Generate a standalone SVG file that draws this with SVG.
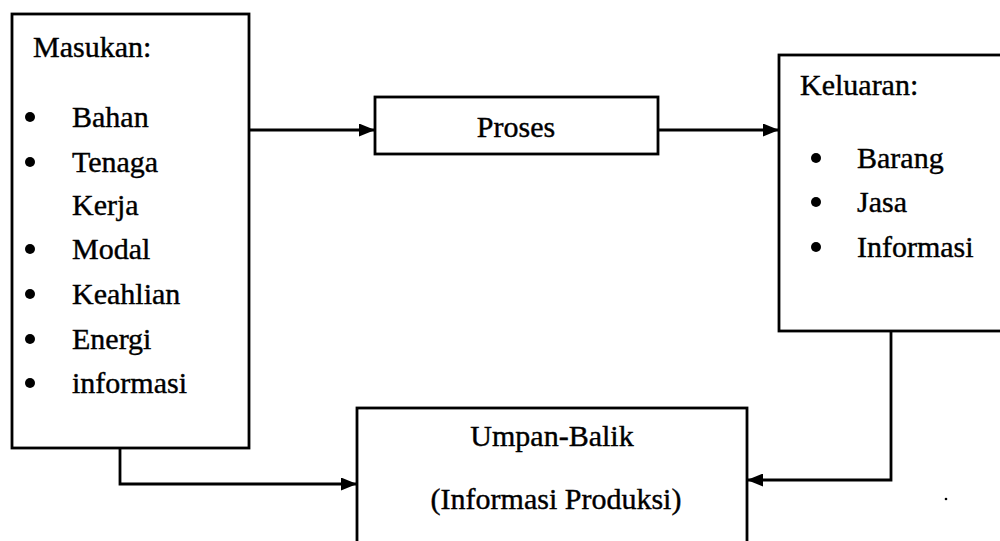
<svg xmlns="http://www.w3.org/2000/svg" width="1000" height="541" viewBox="0 0 1000 541">
  <style>
    .box { fill: #ffffff; stroke: #000000; stroke-width: 2.8; }
    .lbl { font-family: "Liberation Serif", "Times New Roman", serif; font-size: 30px; fill: #000000; stroke: #000000; stroke-width: 0.4; }
    .mid { text-anchor: middle; }
    .dot { fill: #000000; }
    .wire { fill: none; stroke: #000000; stroke-width: 2.8; }
  </style>
  <defs>
    <marker id="arrow" markerUnits="userSpaceOnUse" markerWidth="16" markerHeight="13" refX="15" refY="6.5" orient="auto">
      <path d="M0,0 L16,6.5 L0,13 z" fill="#000000"/>
    </marker>
  </defs>

  <rect width="1000" height="541" fill="#ffffff"/>

  <!-- inputs -->
  <g id="masukan">
    <rect class="box" x="12" y="14" width="237" height="434"/>
    <text class="lbl" x="33" y="57">Masukan:</text>
    <circle class="dot" cx="30" cy="117" r="5"/>
    <text class="lbl" x="72" y="127">Bahan</text>
    <circle class="dot" cx="30" cy="162" r="5"/>
    <text class="lbl" x="72" y="172">Tenaga</text>
    <text class="lbl" x="72" y="215">Kerja</text>
    <circle class="dot" cx="30" cy="249" r="5"/>
    <text class="lbl" x="72" y="259">Modal</text>
    <circle class="dot" cx="30" cy="294" r="5"/>
    <text class="lbl" x="72" y="304">Keahlian</text>
    <circle class="dot" cx="30" cy="339" r="5"/>
    <text class="lbl" x="72" y="349">Energi</text>
    <circle class="dot" cx="30" cy="383" r="5"/>
    <text class="lbl" x="72" y="393">informasi</text>
  </g>

  <!-- process -->
  <g id="proses">
    <rect class="box" x="375" y="97" width="283" height="57"/>
    <text class="lbl mid" x="516" y="137">Proses</text>
  </g>

  <!-- outputs -->
  <g id="keluaran">
    <rect class="box" x="779" y="55" width="240" height="276"/>
    <text class="lbl" x="800" y="95">Keluaran:</text>
    <circle class="dot" cx="816" cy="158" r="5"/>
    <text class="lbl" x="857" y="168">Barang</text>
    <circle class="dot" cx="816" cy="202" r="5"/>
    <text class="lbl" x="857" y="212">Jasa</text>
    <circle class="dot" cx="816" cy="247" r="5"/>
    <text class="lbl" x="857" y="257">Informasi</text>
  </g>

  <!-- feedback -->
  <g id="umpan-balik">
    <rect class="box" x="357" y="408" width="390" height="150"/>
    <text class="lbl mid" x="552" y="446">Umpan-Balik</text>
    <text class="lbl mid" x="556" y="509">(Informasi Produksi)</text>
  </g>

  <g id="connectors">
    <path class="wire" d="M249,130 H374" marker-end="url(#arrow)"/>
    <path class="wire" d="M658,130 H778" marker-end="url(#arrow)"/>
    <path class="wire" d="M120,448 V484 H356" marker-end="url(#arrow)"/>
    <path class="wire" d="M891,331 V480 H748" marker-end="url(#arrow)"/>
  </g>

  <circle cx="946" cy="499" r="1.3" fill="#000000"/>
</svg>
